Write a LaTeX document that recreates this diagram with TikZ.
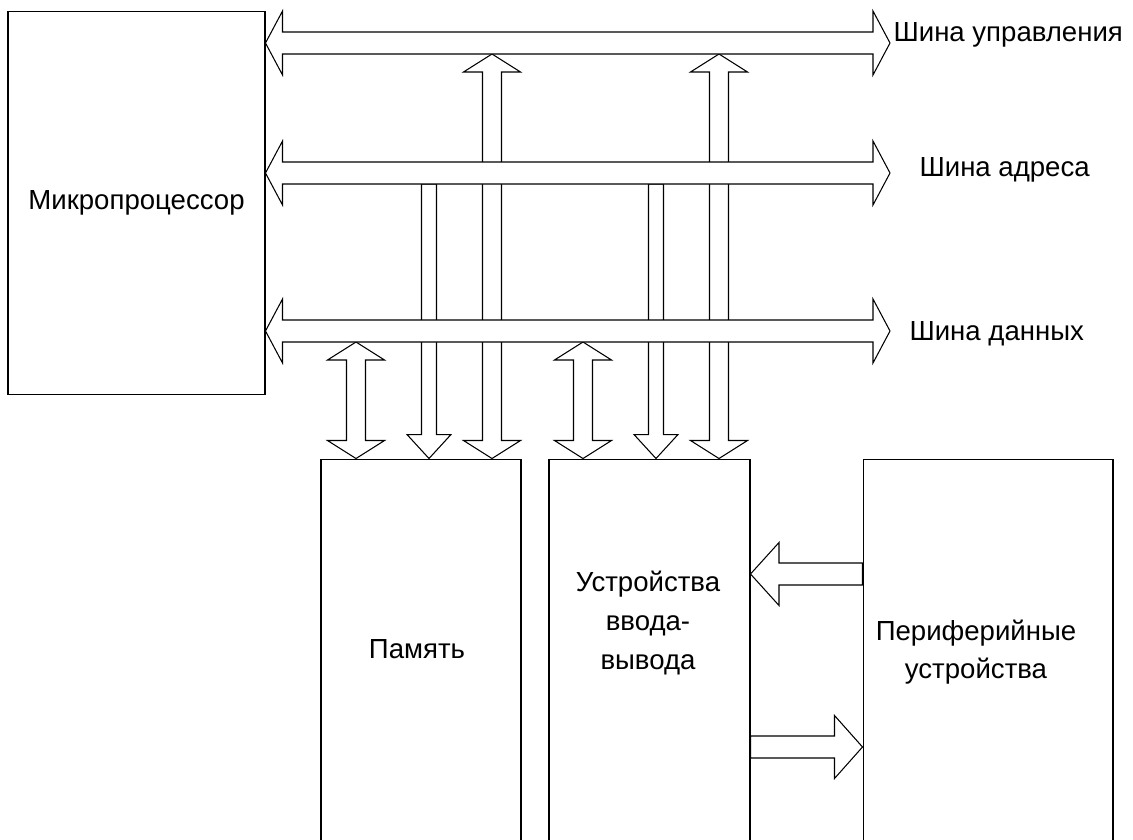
\documentclass[tikz,border=0pt]{standalone}
\usepackage{fontspec}
\setmainfont{Liberation Sans}
\usetikzlibrary{calc}

% hollow block arrows: {from}{to}{half shaft}{half head}{head length}
\newcommand{\twoway}[5]{%
  \draw[fat] (#1) -- ($(#1)!#5!(#2)!#4!90:(#2)$) -- ($(#1)!#5!(#2)!#3!90:(#2)$)
    -- ($(#2)!#5!(#1)!#3!-90:(#1)$) -- ($(#2)!#5!(#1)!#4!-90:(#1)$) -- (#2)
    -- ($(#2)!#5!(#1)!#4!90:(#1)$) -- ($(#2)!#5!(#1)!#3!90:(#1)$)
    -- ($(#1)!#5!(#2)!#3!-90:(#2)$) -- ($(#1)!#5!(#2)!#4!-90:(#2)$) -- cycle;}
\newcommand{\oneway}[5]{%
  \draw[fat] ($(#1)!#3!90:(#2)$)
    -- ($(#2)!#5!(#1)!#3!-90:(#1)$) -- ($(#2)!#5!(#1)!#4!-90:(#1)$) -- (#2)
    -- ($(#2)!#5!(#1)!#4!90:(#1)$) -- ($(#2)!#5!(#1)!#3!90:(#1)$)
    -- ($(#1)!#3!-90:(#2)$) -- cycle;}

\begin{document}
\begin{tikzpicture}[
  x=0.02cm, y=-0.02cm,
  line width=0.6pt,
  every node/.style={font=\fontsize{15.7}{22}\selectfont, inner sep=0pt},
  unit/.style={draw, minimum height=8.42cm},
  fat/.style={draw, fill=white, line join=miter},
  caption/.style={anchor=base west},
]
  \useasboundingbox (0,0) rectangle (1133,839);
  \clip (0,0) rectangle (1133,839);

  \node[draw, minimum width=5.14cm, minimum height=7.68cm] (cpu) at (136.5,203)
    {Микропроцессор};
  \node[unit, minimum width=4cm] (mem) at (421,669.5) {};
  \node[unit, minimum width=4.02cm] (io) at (649.5,669.5) {};
  \node[unit, minimum width=5cm] (per) at (988,669.5) {};

  \node[anchor=base] (mem-t) at (417,658) {Память};
  \node[align=center] (io-t) at (648,623) {Устройства\\ввода-\\вывода};
  \node[align=center] (per-t) at (976,652) {Периферийные\\устройства};

  % buses
  \coordinate (ctl-w) at (cpu.east |- 0,43);
  \coordinate (ctl-e) at (890,43);
  \coordinate (adr-w) at (cpu.east |- 0,173);
  \coordinate (adr-e) at (890,173);
  \coordinate (dat-w) at (cpu.east |- 0,331);
  \coordinate (dat-e) at (890,331);

  % taps from the buses
  \coordinate (m-ctl) at (492,54);
  \coordinate (m-adr) at (429,184);
  \coordinate (m-dat) at (356,342);
  \coordinate (i-ctl) at (719,54);
  \coordinate (i-adr) at (656,184);
  \coordinate (i-dat) at (583,342);
  \coordinate (mem-1) at (m-ctl |- mem.north);
  \coordinate (mem-2) at (m-adr |- mem.north);
  \coordinate (mem-3) at (m-dat |- mem.north);
  \coordinate (io-1) at (i-ctl |- io.north);
  \coordinate (io-2) at (i-adr |- io.north);
  \coordinate (io-3) at (i-dat |- io.north);

  \twoway{m-ctl}{mem-1}{0.19cm}{0.57cm}{0.36cm}
  \twoway{i-ctl}{io-1}{0.19cm}{0.57cm}{0.36cm}
  \oneway{m-adr}{mem-2}{0.15cm}{0.44cm}{0.48cm}
  \oneway{i-adr}{io-2}{0.15cm}{0.44cm}{0.48cm}
  \twoway{m-dat}{mem-3}{0.19cm}{0.57cm}{0.36cm}
  \twoway{i-dat}{io-3}{0.19cm}{0.57cm}{0.36cm}

  \twoway{ctl-w}{ctl-e}{0.22cm}{0.64cm}{0.34cm}
  \twoway{adr-w}{adr-e}{0.22cm}{0.64cm}{0.34cm}
  \twoway{dat-w}{dat-e}{0.22cm}{0.64cm}{0.34cm}

  \node[caption] (ctl-t) at (893,41) {Шина управления};
  \node[caption] (adr-t) at (919,176.5) {Шина адреса};
  \node[caption] (dat-t) at (909,340) {Шина данных};

  % I/O <-> peripherals
  \coordinate (y-in) at (0,574);
  \coordinate (y-out) at (0,747);
  \coordinate (per-1) at (per.west |- y-in);
  \coordinate (io-4) at (io.east |- y-in);
  \coordinate (io-5) at (io.east |- y-out);
  \coordinate (per-2) at (per.west |- y-out);
  \oneway{per-1}{io-4}{0.22cm}{0.63cm}{0.57cm}
  \oneway{io-5}{per-2}{0.22cm}{0.63cm}{0.56cm}
\end{tikzpicture}
\end{document}
